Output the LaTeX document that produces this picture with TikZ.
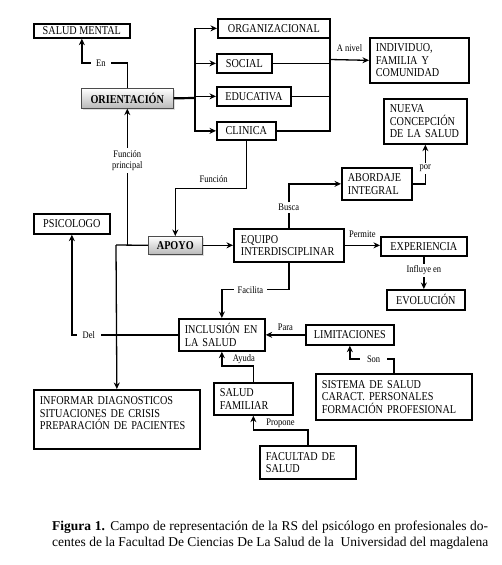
\documentclass[tikz,border=0pt]{standalone}
\usepackage{fontspec}
\setmainfont{Liberation Serif}
\newfontfamily\boxfont[FakeStretch=0.85]{Liberation Serif}
\usetikzlibrary{arrows.meta,shadows,calc}

\tikzset{
  box/.style={draw, line width=1.7pt, inner xsep=6pt, inner ysep=1pt,
    font=\boxfont\fontsize{12}{12.5}\selectfont},
  lbox/.style={box, align=left},
  gbox/.style={draw=gray!60!black, line width=0.6pt, top color=white, bottom color=gray!55,
    drop shadow={shadow xshift=1.2pt, shadow yshift=-1.2pt, fill=gray!50},
    inner xsep=6pt, inner ysep=1pt, font=\boxfont\fontsize{12}{12.5}\selectfont\bfseries},
  conn/.style={line width=1.3pt},
  arr/.style={conn, -{Stealth[length=6.5pt,width=6pt]}},
  lbl/.style={font=\boxfont\fontsize{10}{10.5}\selectfont, fill=white, inner xsep=4pt, inner ysep=2pt},
  tlbl/.style={font=\boxfont\fontsize{10}{10.5}\selectfont, inner sep=1pt},
}
\newcommand\mybox[7][box]{\node[#1,anchor=north west,minimum width={#5-#3},minimum height={#6-#4}] (#2) at (#3,#4) {#7};}

\begin{document}
\begin{tikzpicture}[x=1pt,y=-1pt]
\fill[white] (0,0) rectangle (501,565);
\useasboundingbox (0,0) rectangle (501,565);

% boxes
\mybox{salud}{33}{23}{129}{37}{SALUD MENTAL}
\mybox[gbox]{orient}{81}{88}{173}{108}{ORIENTACIÓN}
\mybox{org}{217}{18}{329}{37}{ORGANIZACIONAL}
\mybox{soc}{216}{53}{271}{72}{SOCIAL}
\mybox{edu}{216}{86}{290}{105}{EDUCATIVA}
\mybox{clin}{216}{121}{275}{139}{CLINICA}
\mybox[lbox,text width=87pt]{indiv}{369}{37}{468}{82}{INDIVIDUO,\\FAMILIA Y\\COMUNIDAD}
\mybox[lbox,text width=71pt]{nueva}{383}{98}{466}{143}{NUEVA\\CONCEPCIÓN\\DE LA SALUD}
\mybox[lbox,text width=58pt]{abord}{341}{167}{411}{199}{ABORDAJE\\INTEGRAL}
\mybox[gbox]{apoyo}{148}{236}{202}{254}{APOYO}
\mybox{psico}{33}{213}{109}{233}{PSICOLOGO}
\mybox[lbox,text width=100pt,inner xsep=5pt]{equipo}{233}{228}{343}{261}{\hspace*{2pt}EQUIPO\\\hspace*{2pt}INTERDISCIPLINAR}
\mybox{exp}{380}{236}{466}{255}{EXPERIENCIA}
\mybox{evol}{386}{289}{464}{309}{EVOLUCIÓN}
\mybox[lbox,text width=74pt]{incl}{178}{318}{264}{350}{INCLUSIÓN EN\\LA SALUD}
\mybox{lim}{305}{324}{393}{344}{LIMITACIONES}
\mybox[lbox,text width=144pt]{sis}{315}{373}{471}{419}{SISTEMA DE SALUD\\CARACT. PERSONALES\\FORMACIÓN PROFESIONAL}
\mybox[lbox,text width=67pt]{sf}{213}{382}{292}{414}{SALUD\\FAMILIAR}
\mybox[lbox,text width=84pt]{fac}{259}{445}{355}{478}{FACULTAD DE\\SALUD}
\mybox[lbox,text width=154pt]{inf}{33}{389}{199}{448}{INFORMAR DIAGNOSTICOS\\SITUACIONES DE CRISIS\\PREPARACIÓN DE PACIENTES\\\mbox{}}

% junctions
\coordinate (b1) at (195,98);
\coordinate (b2) at (330,59.5);
\coordinate (j1) at (116,245);

% connectors
\draw[arr] (orient.north) -- ++(0,-25) -| node[lbl,pos=0.29,inner xsep=5pt]{En} (salud.south);
\draw[conn,line width=2.2pt] (orient.east) -- (b1);
\draw[arr] (b1) |- (org.west);
\draw[arr] (b1) |- (soc.west);
\draw[arr] (b1) |- (edu.west);
\draw[arr] (b1) |- (clin.west);
\draw[conn] (org.east) -| (b2);
\draw[conn] (soc.east) -| (b2);
\draw[conn] (edu.east) -| (b2);
\draw[conn] (clin.east) -| (b2);
\draw[arr] (b2) -- node[tlbl,above=7pt]{A nivel} (indiv.west);
\draw[arr] (clin.south) -- ++(0,48) -| node[tlbl,pos=0.23,above=4pt]{Función} (apoyo.north);
\draw[conn] (apoyo.west) -- (j1);
\draw[arr] (j1) -- (inf.north);
\draw[arr] (orient.south |- apoyo.west) -- node[lbl,pos=0.62,align=center,inner ysep=3pt]{Función\\principal} (orient.south);
\draw[arr] (apoyo.east) -- (apoyo.east -| equipo.west);
\draw[arr] (incl.west) -| node[lbl,pos=0.42,inner xsep=6pt]{Del} (psico.south);
\draw[arr] (equipo.north) |- node[lbl,pos=0.23]{Busca} (abord.west);
\draw[arr] (abord.east) -| node[lbl,pos=0.7]{por} (nueva.south);
\draw[arr] (equipo.east) -- node[tlbl,above=6pt]{Permite} (equipo.east -| exp.west);
\draw[arr] (exp.south) -- node[lbl,pos=0.42]{Influye en} (exp.south |- evol.north);
\draw[arr] (equipo.south) -- ++(0,27) -| node[lbl,pos=0.287]{Facilita} (incl.north);
\draw[arr] (lim.west) -- node[tlbl,above=3pt]{Para} (incl.east);
\draw[arr] (sis.north) -- ++(0,-14) -| node[lbl,pos=0.23,inner xsep=7pt]{Son} (lim.south);
\draw[arr] (sf.north) -- ++(0,-16) -| node[tlbl,pos=0.15,above=0.5pt]{Ayuda} (incl.south);
\draw[arr] (fac.north) -- ++(0,-15) -| node[tlbl,pos=0.25,above=0.5pt]{Propone} (sf.south);

% caption
\node[anchor=base west,inner sep=0pt,font=\fontsize{13.5}{16}\selectfont] (cap1) at (52,530)
  {\makebox[436pt][s]{\textbf{Figura 1.} Campo de representación de la RS del psicólogo en profesionales do-}};
\node[anchor=base west,inner sep=0pt,font=\fontsize{13.5}{16}\selectfont] (cap2) at (52,546)
  {\makebox[436pt][s]{centes de la Facultad De Ciencias De La Salud de la \ Universidad del magdalena}};
\end{tikzpicture}
\end{document}
